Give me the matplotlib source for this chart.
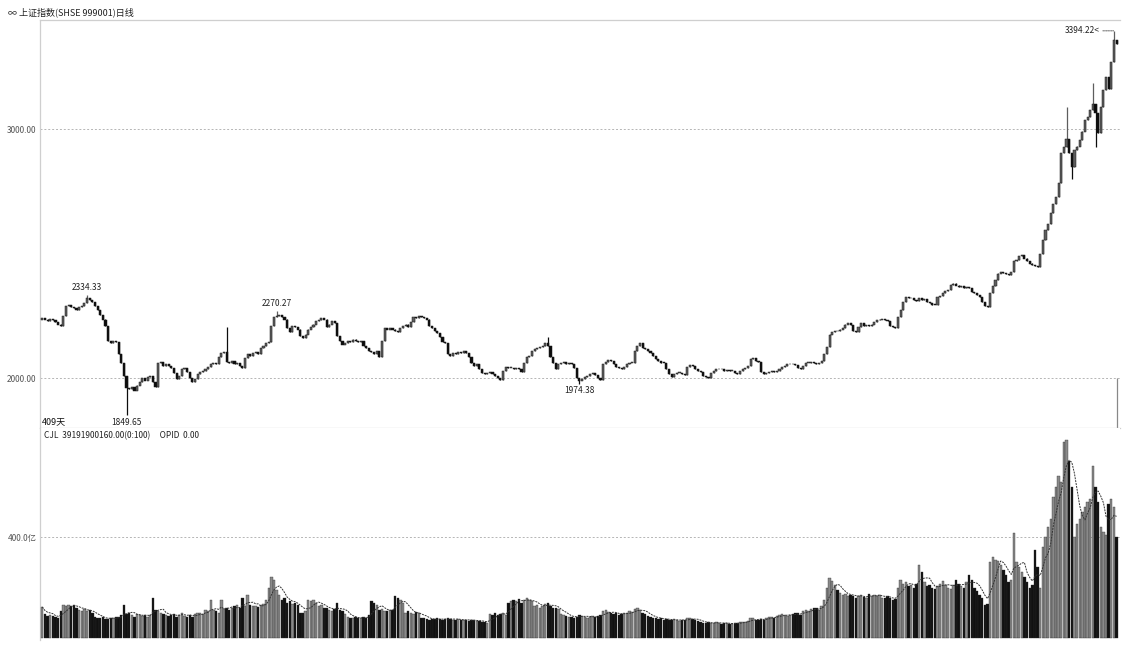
import matplotlib
matplotlib.use('Agg')
import matplotlib.pyplot as plt
import numpy as np
import pandas as pd

plt.rcParams['font.family'] = ['Noto Sans CJK SC', 'DejaVu Sans']

title_text = '∞ 上证指数(SHSE 999001)日线'
days_text = '409天'
vol_header = 'CJL  39191900160.00(0:100)     OPID  0.00'

# daily closes (409 trading days)
closes = [
    2240, 2235, 2230, 2238, 2232, 2225, 2215, 2210, 2250, 2290,
    2295, 2285, 2280, 2272, 2285, 2290, 2300, 2320, 2315, 2305,
    2290, 2275, 2255, 2235, 2210, 2150, 2140, 2150, 2145, 2095,
    2060, 2010, 1960, 1955, 1965, 1950, 1970, 1985, 2000, 1990,
    2005, 2010, 1985, 1965, 2060, 2065, 2050, 2055, 2050, 2040,
    2020, 1995, 2010, 2035, 2040, 2025, 2000, 1985, 1995, 2015,
    2025, 2030, 2035, 2045, 2055, 2060, 2055, 2085, 2100, 2105,
    2065, 2060, 2070, 2055, 2060, 2050, 2040, 2080, 2095, 2090,
    2100, 2105, 2098, 2120, 2130, 2140, 2145, 2210, 2245, 2250,
    2255, 2245, 2235, 2200, 2185, 2210, 2205, 2195, 2170, 2160,
    2175, 2195, 2205, 2215, 2230, 2233, 2240, 2235, 2205, 2215,
    2230, 2222, 2170, 2150, 2135, 2140, 2150, 2145, 2155, 2150,
    2145, 2150, 2130, 2120, 2110, 2105, 2095, 2110, 2085, 2150,
    2200, 2195, 2200, 2195, 2190, 2185, 2200, 2210, 2215, 2205,
    2225, 2245, 2240, 2250, 2245, 2240, 2235, 2210, 2200, 2190,
    2180, 2165, 2145, 2140, 2095, 2090, 2100, 2095, 2105, 2100,
    2110, 2100, 2085, 2060, 2050, 2055, 2035, 2020, 2015, 2020,
    2025, 2015, 2010, 2000, 1992, 2030, 2045, 2040, 2042, 2038,
    2040, 2035, 2025, 2060, 2085, 2090, 2110, 2115, 2120, 2125,
    2130, 2140, 2130, 2085, 2060, 2035, 2055, 2060, 2065, 2058,
    2062, 2055, 2040, 2000, 1990, 1995, 2005, 2010, 2015, 2020,
    2012, 2000, 1992, 2055, 2065, 2072, 2068, 2055, 2045, 2040,
    2035, 2045, 2055, 2060, 2062, 2110, 2130, 2140, 2120, 2115,
    2110, 2100, 2090, 2075, 2068, 2062, 2060, 2035, 2015, 2005,
    2018, 2020, 2022, 2015, 2012, 2045, 2052, 2048, 2035, 2030,
    2025, 2010, 2003, 2000, 2020, 2030, 2035, 2038, 2035, 2030,
    2032, 2028, 2030, 2020, 2018, 2030, 2038, 2042, 2050, 2078,
    2080, 2070, 2065, 2025, 2018, 2022, 2025, 2028, 2026, 2030,
    2035, 2045, 2050, 2055, 2058, 2055, 2052, 2040, 2038, 2050,
    2060, 2062, 2065, 2060, 2058, 2062, 2070, 2095, 2125, 2175,
    2185, 2190, 2188, 2195, 2200, 2215, 2222, 2213, 2190, 2185,
    2205, 2220, 2210, 2212, 2208, 2215, 2225, 2232, 2235, 2238,
    2232, 2228, 2210, 2205, 2200, 2245, 2275, 2305, 2325, 2320,
    2322, 2315, 2310, 2320, 2312, 2318, 2305, 2300, 2295, 2293,
    2325, 2330, 2340, 2350, 2355, 2375, 2380, 2372, 2365, 2368,
    2362, 2366, 2360, 2345, 2340, 2332, 2325, 2305, 2290, 2285,
    2340, 2370, 2393, 2420, 2425, 2422, 2418, 2415, 2425, 2470,
    2475, 2490, 2493, 2480, 2470, 2460, 2455, 2450, 2446, 2500,
    2554, 2594, 2620, 2663, 2700, 2727, 2783, 2904, 2928, 2960,
    2904, 2847, 2915, 2930, 2955, 2990, 3036, 3050, 3076, 3100,
    3064, 2984, 3088, 3157, 3209, 3160, 3270, 3357, 3340,
]
first_open = 2235

# notable extremes (wicks)
high_marks = {17: 2334.33, 70: 2205, 89: 2270.27, 192: 2165,
              389: 3088, 399: 3185, 407: 3394.22}
low_marks = {32: 1849.65, 204: 1974.38, 391: 2800, 400: 2928}
labelled_highs = [17, 89]
labelled_lows = [32, 204]
top_label_day = 407

# daily volume, 亿
volumes = [
    123, 95, 88, 90, 86, 85, 80, 105, 130, 128,
    132, 125, 130, 120, 112, 108, 115, 105, 110, 100,
    85, 80, 78, 82, 76, 75, 80, 78, 82, 85,
    90, 130, 95, 100, 92, 85, 95, 90, 88, 92,
    85, 90, 158, 110, 105, 100, 95, 92, 88, 90,
    95, 85, 92, 100, 88, 85, 90, 82, 95, 100,
    98, 95, 110, 105, 150, 110, 105, 98, 150, 115,
    120, 110, 118, 125, 130, 120, 158, 125, 170, 130,
    125, 128, 122, 130, 135, 150, 200, 240, 230, 190,
    170, 150, 160, 140, 145, 135, 140, 130, 100, 100,
    105, 150, 145, 150, 140, 125, 130, 120, 118, 110,
    108, 115, 140, 110, 105, 95, 85, 80, 78, 82,
    80, 78, 85, 80, 90, 145, 140, 130, 110, 115,
    105, 108, 110, 112, 165, 160, 150, 140, 100, 105,
    98, 95, 102, 100, 80, 78, 75, 72, 76, 74,
    78, 75, 72, 74, 80, 76, 73, 70, 75, 72,
    70, 73, 68, 72, 70, 66, 68, 64, 62, 60,
    95, 92, 98, 90, 95, 100, 92, 140, 145, 150,
    148, 155, 140, 150, 158, 152, 145, 125, 130, 120,
    128, 135, 140, 125, 118, 120, 115, 95, 90, 88,
    85, 82, 80, 85, 92, 88, 84, 80, 82, 86,
    84, 88, 92, 105, 110, 102, 98, 95, 100, 92,
    95, 98, 100, 105, 102, 115, 120, 110, 100, 95,
    88, 82, 80, 78, 75, 78, 72, 74, 70, 72,
    75, 70, 68, 72, 70, 78, 80, 75, 70, 68,
    62, 60, 58, 62, 60, 58, 62, 60, 56, 58,
    60, 57, 55, 58, 60, 62, 65, 62, 68, 80,
    78, 72, 70, 75, 72, 80, 82, 85, 80, 88,
    90, 95, 92, 88, 90, 95, 100, 98, 92, 105,
    110, 108, 115, 120, 118, 112, 125, 150, 200, 238,
    225, 210, 190, 180, 170, 175, 165, 172, 168, 160,
    165, 170, 162, 158, 175, 168, 172, 165, 170, 160,
    158, 165, 160, 150, 155, 200, 230, 215, 220, 205,
    210, 200, 215, 290, 260, 220, 205, 210, 200, 195,
    205, 215, 225, 210, 200, 195, 210, 230, 215, 205,
    200, 220, 250, 230, 200, 185, 170, 160, 130, 135,
    300, 320, 310, 305, 290, 270, 250, 220, 230, 415,
    300, 280, 260, 240, 220, 200, 210, 350, 280, 200,
    360, 400, 440, 470, 560, 600, 640, 620, 775, 785,
    700, 600, 400, 450, 470, 500, 520, 540, 550, 680,
    600, 540, 440, 420, 410, 530, 550, 520, 400,
]

price_ticks = [2000, 3000]
price_tick_labels = ['2000.00', '3000.00']
vol_ticks = [400]
vol_tick_labels = ['400.0亿']

n = len(closes)
x = np.arange(n)
c = np.array(closes, dtype=float)
o = np.concatenate([[first_open], c[:-1]])
hi = np.maximum(o, c)
lo = np.minimum(o, c)
for k, val in high_marks.items():
    hi[k] = max(hi[k], val)
for k, val in low_marks.items():
    lo[k] = min(lo[k], val)
up = c >= o
v = np.array(volumes, dtype=float)
vma = pd.Series(v).rolling(5, min_periods=1).mean().values

W, H = 1127, 645
fig = plt.figure(figsize=(W / 100, H / 100), dpi=100)
fig.patch.set_facecolor('white')
ax = fig.add_axes([40 / W, 1 - 428 / H, 1080 / W, 408 / H])
axv = fig.add_axes([40 / W, 1 - 640 / H, 1080 / W, 212 / H])

xl = (-0.87, n + 0.3)
up_col = '#5e5e5e'
dn_col = '#0c0c0c'

# --- price panel ---
cols = np.where(up, up_col, dn_col)
ax.vlines(x, lo, hi, colors=cols, linewidth=0.9, zorder=3)
body_h = np.where(np.abs(c - o) < 3, 3, np.abs(c - o))
ax.bar(x, body_h, bottom=np.minimum(o, c) - 0.5, width=0.8, color=cols,
       edgecolor='#1a1a1a', linewidth=0.35, zorder=4)
ax.set_xlim(*xl)
ax.set_ylim(1799.2, 3437.8)
for t in price_ticks:
    ax.axhline(t, color='#b5b5b5', lw=0.7, ls=(0, (2, 2)), zorder=1)
ax.set_yticks(price_ticks)
ax.set_yticklabels(price_tick_labels)
ax.set_xticks([])
ax.tick_params(axis='y', length=0, labelsize=6, labelcolor='#555555', pad=3)
ax.spines['right'].set_visible(False)
for s in ['left', 'top', 'bottom']:
    ax.spines[s].set_color('#cfcfcf')
    ax.spines[s].set_linewidth(0.9)
# end marker line
ax.vlines(x[-1] + 0.2, 1799.2, price_ticks[0], colors='#888888', lw=0.9, zorder=2)

for k in labelled_highs:
    ax.annotate(f'{hi[k]:.2f}', xy=(k, hi[k]), xytext=(0, 2), textcoords='offset points',
                ha='center', va='bottom', fontsize=6, color='#222222')
for k in labelled_lows:
    ax.annotate(f'{lo[k]:.2f}', xy=(k, lo[k]), xytext=(0, -1.5), textcoords='offset points',
                ha='center', va='top', fontsize=6, color='#222222')
ax.annotate(f'{hi[top_label_day]:.2f}<', xy=(top_label_day, hi[top_label_day]),
            xytext=(-10, 0), textcoords='offset points', ha='right', va='center',
            fontsize=6, color='#222222',
            arrowprops=dict(arrowstyle='-', linestyle=(0, (1, 1)), lw=0.6,
                            color='#444444', shrinkA=0, shrinkB=0))
ax.text(0.002, 0.004, days_text, transform=ax.transAxes, ha='left', va='bottom',
        fontsize=6.5, color='#111111')

# --- volume panel ---
vcols = np.where(up, '#8a8a8a', '#111111')
axv.bar(x, v, width=0.9, color=vcols, edgecolor='#2a2a2a', linewidth=0.25, zorder=3)
axv.plot(x, vma, color='#333333', lw=0.7, ls=(0, (2, 1)), zorder=4)
axv.set_xlim(*xl)
axv.set_ylim(-8, 832)
for t in vol_ticks:
    axv.axhline(t, color='#b5b5b5', lw=0.7, ls=(0, (2, 2)), zorder=1)
axv.set_yticks(vol_ticks)
axv.set_yticklabels(vol_tick_labels)
axv.set_xticks([])
axv.tick_params(axis='y', length=0, labelsize=6, labelcolor='#555555', pad=2)
for s in ['right', 'top', 'bottom']:
    axv.spines[s].set_visible(False)
axv.spines['left'].set_color('#cfcfcf')
axv.spines['left'].set_linewidth(0.9)
axv.text(0.004, 0.985, vol_header, transform=axv.transAxes, ha='left', va='top',
         fontsize=6, color='#222222')

fig.text(8 / W, 1 - 12 / H, title_text, ha='left', va='center', fontsize=6.5,
         color='#222222')

fig.savefig('out.png', dpi=100, facecolor='white')
